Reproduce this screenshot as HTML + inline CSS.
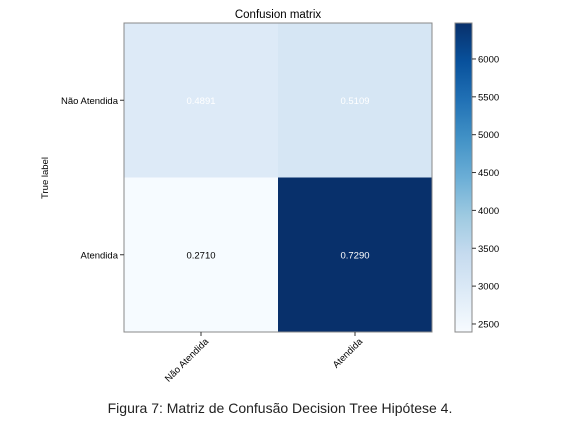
<!DOCTYPE html>
<html><head><meta charset="utf-8"><style>
body{margin:0;background:#fff;}
svg text{font-family:"Liberation Sans","DejaVu Sans",sans-serif;}
</style></head><body>
<svg id="chart" width="576" height="430" xmlns="http://www.w3.org/2000/svg">
<text x="278" y="18" font-size="11.5" text-anchor="middle" fill="#000">Confusion matrix</text>
<g id="cells"></g>
<rect x="124" y="23" width="308" height="309" fill="none" stroke="#888" stroke-width="1"/>
<g id="axes"></g>
<text transform="translate(48,178) rotate(-90)" font-size="9.5" text-anchor="middle">True label</text>
<defs><linearGradient id="cbg" x1="0" y1="1" x2="0" y2="0">
<stop offset="0" stop-color="#f7fbff"/><stop offset="0.125" stop-color="#deebf7"/><stop offset="0.25" stop-color="#c6dbef"/><stop offset="0.375" stop-color="#9ecae1"/><stop offset="0.5" stop-color="#6baed6"/><stop offset="0.625" stop-color="#4292c6"/><stop offset="0.75" stop-color="#2171b5"/><stop offset="0.875" stop-color="#08519c"/><stop offset="1" stop-color="#08306b"/></linearGradient></defs>
<rect x="455" y="23" width="17" height="309" fill="url(#cbg)" stroke="#888"/>
<g id="cbticks"></g>
<text x="280" y="413" font-size="14" text-anchor="middle" fill="#222">Figura 7: Matriz de Confusão Decision Tree Hipótese 4.</text>
</svg>
<script>
const classes=["Não Atendida","Atendida"];
const counts=[[2935,3065],[2407,6475]];
const normValues=[["0.4891","0.5109"],["0.2710","0.7290"]];
const cbTicks=[2500,3000,3500,4000,4500,5000,5500,6000];
const vmin=2394, vmax=6475;
const NS="http://www.w3.org/2000/svg";
const stops=["#f7fbff","#deebf7","#c6dbef","#9ecae1","#6baed6","#4292c6","#2171b5","#08519c","#08306b"].map(h=>[parseInt(h.slice(1,3),16),parseInt(h.slice(3,5),16),parseInt(h.slice(5,7),16)]);
function blues(t){t=Math.max(0,Math.min(1,t))*8;const i=Math.min(7,Math.floor(t)),f=t-i;const a=stops[i],b=stops[i+1];return "rgb("+a.map((v,k)=>Math.round(v+(b[k]-v)*f)).join(",")+")";}
const X0=124,Y0=23,W=308,H=309;
const cw=W/classes.length, ch=H/classes.length;
const xs=j=>X0+j*cw, ys=i=>Y0+i*ch;
const cy=v=>332-(v-vmin)/(vmax-vmin)*309;
const cells=document.getElementById('cells');
const thresh=(vmin+vmax)/2;
counts.forEach((row,i)=>row.forEach((v,j)=>{
 const r=document.createElementNS(NS,'rect');
 r.setAttribute('x',xs(j));r.setAttribute('y',ys(i));r.setAttribute('width',cw);r.setAttribute('height',ch);
 r.setAttribute('fill',blues((v-vmin)/(vmax-vmin)));
 
 
 cells.appendChild(r);
 const t=document.createElementNS(NS,'text');
 t.setAttribute('x',xs(j)+cw/2);t.setAttribute('y',ys(i)+ch/2+3.5);
 t.setAttribute('text-anchor','middle');t.setAttribute('font-size','9.5');
 t.setAttribute('fill',(v>thresh||i===0)?'#fff':'#000');
 t.textContent=normValues[i][j];
 
 
 cells.appendChild(t);
}));
const axes=document.getElementById('axes');
classes.forEach((c,k)=>{
 const ty=ys(k)+ch/2;
 const l=document.createElementNS(NS,'line');
 l.setAttribute('x1',X0-4);l.setAttribute('x2',X0);l.setAttribute('y1',ty);l.setAttribute('y2',ty);l.setAttribute('stroke','#333');
 
 
 axes.appendChild(l);
 const t=document.createElementNS(NS,'text');
 t.setAttribute('x',X0-6);t.setAttribute('y',ty+3.5);t.setAttribute('text-anchor','end');t.setAttribute('font-size','9.5');
 t.textContent=c;
 
 
 axes.appendChild(t);
 const tx=xs(k)+cw/2;
 const l2=document.createElementNS(NS,'line');
 l2.setAttribute('x1',tx);l2.setAttribute('x2',tx);l2.setAttribute('y1',Y0+H);l2.setAttribute('y2',Y0+H+4);l2.setAttribute('stroke','#333');
 
 
 axes.appendChild(l2);
 const t2=document.createElementNS(NS,'text');
 t2.setAttribute('transform','translate('+(tx+8)+','+(Y0+H+10)+') rotate(-45)');
 t2.setAttribute('text-anchor','end');t2.setAttribute('font-size','9.5');
 t2.textContent=c;
 
 
 axes.appendChild(t2);
});
const cb=document.getElementById('cbticks');
cbTicks.forEach(v=>{
 const y=cy(v);
 const l=document.createElementNS(NS,'line');
 l.setAttribute('x1',472);l.setAttribute('x2',476);l.setAttribute('y1',y);l.setAttribute('y2',y);l.setAttribute('stroke','#333');
 
 
 cb.appendChild(l);
 const t=document.createElementNS(NS,'text');
 t.setAttribute('x',478);t.setAttribute('y',y+3.5);t.setAttribute('font-size','9.5');
 t.textContent=v;
 
 
 cb.appendChild(t);
});
</script>
</body></html>
